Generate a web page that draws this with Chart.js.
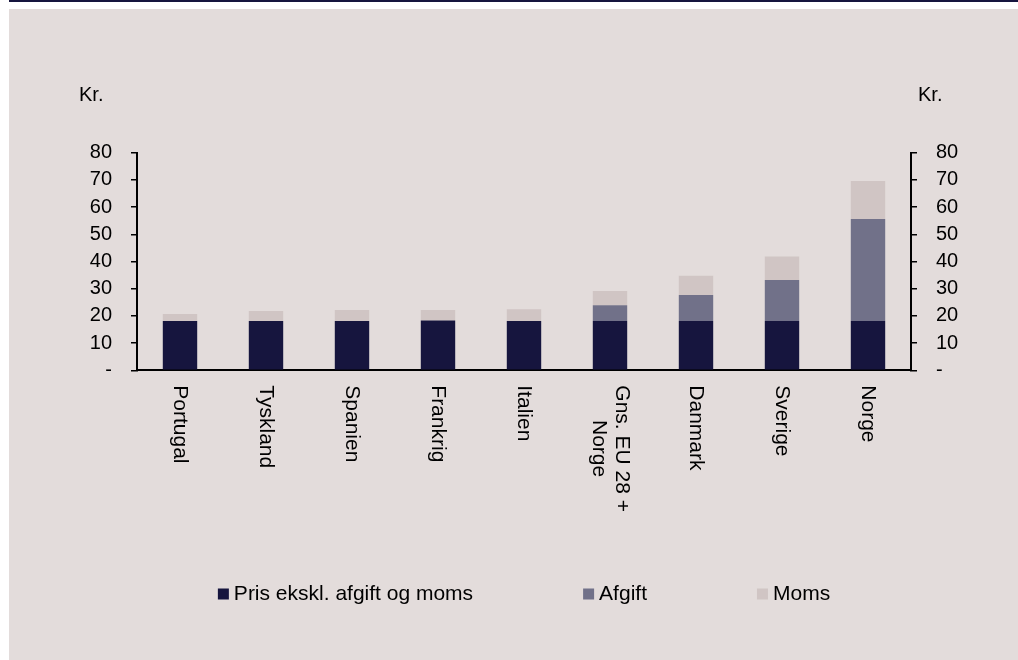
<!DOCTYPE html>
<html>
<head>
<meta charset="utf-8">
<script src="https://cdn.jsdelivr.net/npm/chart.js@4.4.1/dist/chart.umd.min.js"></script>
<style>
  body { margin: 0; background: #fff; }
  .topline { position: absolute; left: 9px; top: 0; width: 1009px; height: 2px; background: #16153e; }
  .panel { position: absolute; left: 9px; top: 9px; width: 1009px; height: 651px; background: #e3dcdb; }
</style>
</head>
<body>
<div class="topline"></div>
<div class="panel"><canvas id="chart" width="1009" height="651"></canvas></div>
<script>
// data
const categories = ['Portugal', 'Tyskland', 'Spanien', 'Frankrig', 'Italien', ['Gns. EU 28 +', 'Norge'], 'Danmark', 'Sverige', 'Norge'];
const prisData = [18.1, 18.1, 18.1, 18.3, 18.1, 18.1, 18.1, 18.1, 18.1];
const afgiftData = [0, 0, 0, 0, 0, 5.8, 9.6, 15.1, 37.5];
const momsData = [2.6, 3.7, 4.1, 3.9, 4.3, 5.3, 7.1, 8.6, 14.0];
const tickLabels = ['-', '10', '20', '30', '40', '50', '60', '70', '80'];
const unitLabel = 'Kr.';

const FONT = '"Liberation Sans", Arial, sans-serif';

// x축 라벨, 단위, 범례 직접 그림
const extraDraw = {
  id: 'extraDraw',
  afterDraw(chart) {
    const ctx = chart.ctx;
    const xScale = chart.scales.x;
    const area = chart.chartArea;
    ctx.save();
    ctx.fillStyle = '#000';

    // 세로 카테고리 라벨
    ctx.font = '21px ' + FONT;
    ctx.textAlign = 'center';
    ctx.textBaseline = 'middle';
    const lh = 23;
    categories.forEach((label, i) => {
      const lines = Array.isArray(label) ? label : [label];
      const maxW = Math.max(...lines.map(l => ctx.measureText(l).width));
      const cx = xScale.getPixelForValue(i);
      lines.forEach((line, j) => {
        const off = (lines.length - 1) / 2 * lh - j * lh;
        ctx.save();
        ctx.translate(cx + off, area.bottom + 15 + maxW / 2);
        ctx.rotate(Math.PI / 2);
        ctx.fillText(line, 0, 0);
        ctx.restore();
      });
    });

    // Kr.
    ctx.font = '20px ' + FONT;
    ctx.textAlign = 'left';
    ctx.textBaseline = 'alphabetic';
    ctx.fillText(unitLabel, 70, 92);
    ctx.fillText(unitLabel, 909, 92);

    // 범례
    ctx.font = '21px ' + FONT;
    ctx.textBaseline = 'middle';
    const box = 11, gap = 5, spacing = 110;
    const items = chart.data.datasets.map(ds => ({
      text: ds.label, color: ds.backgroundColor,
      w: box + gap + ctx.measureText(ds.label).width
    }));
    const total = items.reduce((s, it) => s + it.w, 0) + spacing * (items.length - 1);
    let x = (area.left + area.right) / 2 - total / 2;
    const y = 585;
    items.forEach(it => {
      ctx.fillStyle = it.color;
      ctx.fillRect(x, y - box / 2, box, box);
      ctx.fillStyle = '#000';
      ctx.fillText(it.text, x + box + gap, y);
      x += it.w + spacing;
    });
    ctx.restore();
  }
};

const yAxis = (pos, width) => ({
  position: pos,
  stacked: true,
  min: 0,
  max: 80,
  afterFit: (scale) => { scale.width = width; },
  afterBuildTicks: (scale) => {
    scale.ticks = tickLabels.map((t, i) => ({ value: i * 10 }));
  },
  grid: {
    display: true,
    drawOnChartArea: false,
    drawTicks: true,
    tickLength: 6,
    color: '#000',
    lineWidth: 1.5
  },
  border: { display: true, color: '#000', width: 2 },
  ticks: {
    padding: 19,
    color: '#000',
    font: { size: 20, family: FONT },
    callback: (value, i) => tickLabels[i]
  }
});

new Chart(document.getElementById('chart'), {
  type: 'bar',
  data: {
    labels: categories,
    datasets: [
      { label: 'Pris ekskl. afgift og moms', data: prisData, backgroundColor: '#16153e', yAxisID: 'y' },
      { label: 'Afgift', data: afgiftData, backgroundColor: '#717189', yAxisID: 'y' },
      { label: 'Moms', data: momsData, backgroundColor: '#d0c5c4', yAxisID: 'y' }
    ]
  },
  options: {
    responsive: false,
    animation: false,
    barPercentage: 0.4,
    categoryPercentage: 1,
    layout: { padding: { top: 143.7, bottom: 0, left: 0, right: 0 } },
    scales: {
      x: {
        stacked: true,
        afterFit: (scale) => { scale.height = 289.7; },
        grid: { display: false },
        border: { display: true, color: '#000', width: 2 },
        ticks: { display: false }
      },
      y: yAxis('left', 128),
      y2: yAxis('right', 107)
    },
    plugins: {
      legend: { display: false },
      tooltip: { enabled: false }
    }
  },
  plugins: [extraDraw]
});
</script>
</body>
</html>
